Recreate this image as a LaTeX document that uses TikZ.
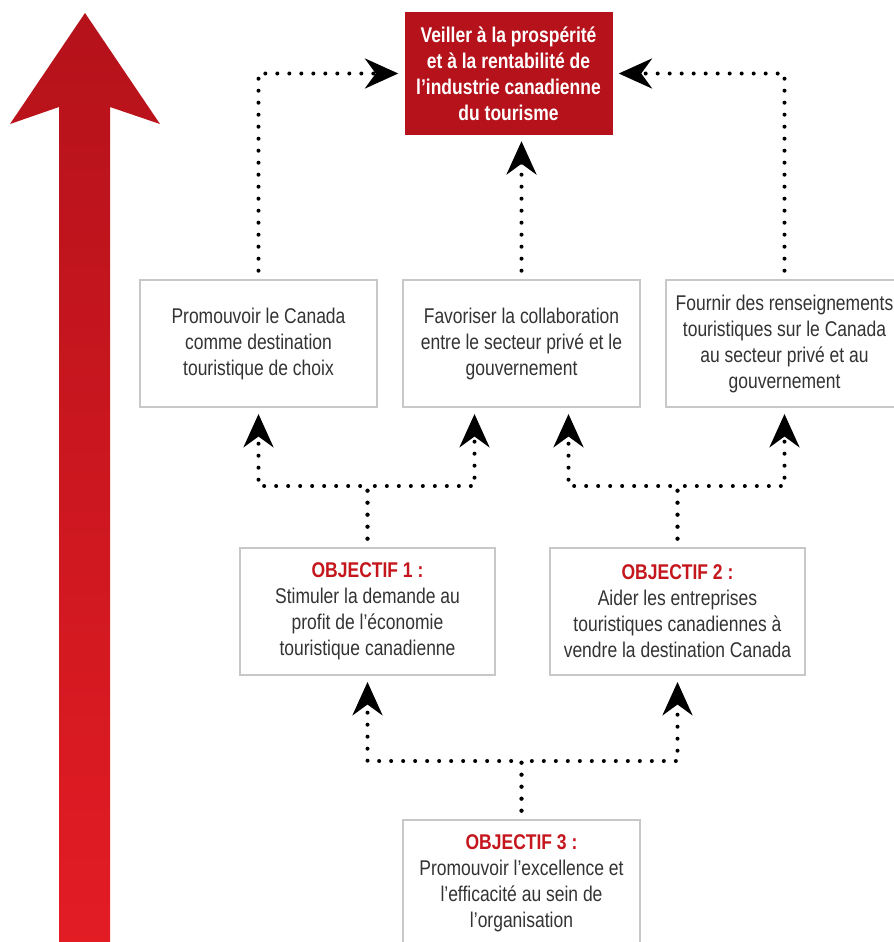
\documentclass[tikz,border=0pt]{standalone}
\usepackage{fontspec}
\setmainfont[FakeStretch=0.82]{Liberation Sans}
\usetikzlibrary{arrows.meta}
\definecolor{deepred}{HTML}{B5121B}
\definecolor{brightred}{HTML}{E31C24}
\definecolor{goalred}{HTML}{C4161C}
\definecolor{framegray}{HTML}{C8C8C8}
\definecolor{textgray}{HTML}{333333}
\newcommand{\goal}[1]{{\bfseries\color{goalred}OBJECTIF #1 :}\\}

\begin{document}
\begin{tikzpicture}[x=0.3mm,y=-0.3mm,>={Stealth[length=10mm,width=9mm]},
  box/.style={draw=framegray,line width=0.6mm,fill=white,align=center,text=textgray,
    minimum width=71.1mm,minimum height=38.1mm,font=\fontsize{18.2}{22.2}\selectfont},
  goalbox/.style={box,minimum width=76.5mm},
  topbox/.style={fill=deepred,text=white,align=center,minimum width=62.4mm,
    minimum height=36.9mm,font=\bfseries\fontsize{18.2}{22.2}\selectfont},
  link/.style={->,line width=1.2mm,line cap=round,dash pattern=on 0mm off 3.6mm,
    shorten <=2.5mm,shorten >=1.8mm}]
\clip (0,0) rectangle (894,942);
\fill[white] (0,0) rectangle (894,942);
% big arrow on the left
\shade[top color=deepred,bottom color=brightred]
  (85,13) -- (160,124) -- (110,107) -- (110,950) -- (59,950) -- (59,107) -- (10,124) -- cycle;
% boxes
\node[topbox] (top) at (508.5,73.5) {Veiller à la prospérité\\et à la rentabilité de\\l’industrie canadienne\\du tourisme};
\node[box] (promo) at (258.5,343.5) {Promouvoir le Canada\\comme destination\\touristique de choix};
\node[box] (collab) at (521.5,343.5) {Favoriser la collaboration\\entre le secteur privé et le\\gouvernement};
\node[box] (info) at (784.5,343.5) {Fournir des renseignements\\touristiques sur le Canada\\au secteur privé et au\\gouvernement};
\node[goalbox] (obj1) at (367.5,611.5) {\goal{1}Stimuler la demande au\\profit de l’économie\\touristique canadienne};
\node[goalbox] (obj2) at (677.5,611.5) {\goal{2}Aider les entreprises\\touristiques canadiennes à\\vendre la destination Canada};
\node[box] (obj3) at (521.5,883.5) {\goal{3}Promouvoir l’excellence et\\l’efficacité au sein de\\l’organisation};
% links
\draw[link] (promo.north) |- (top.west);
\draw[link] (info.north) |- (top.east);
\draw[link] (collab.north) -- (collab.north |- top.south);
\draw[link] (obj1.north) -- ++(0,-61) -| (promo.south);
\draw[link] (obj1.north) -- ++(0,-61) -| ([xshift=-14.1mm]collab.south);
\draw[link] (obj2.north) -- ++(0,-61) -| ([xshift=14.1mm]collab.south);
\draw[link] (obj2.north) -- ++(0,-61) -| (info.south);
\draw[link] (obj3.north) -- ++(0,-58) -| (obj1.south);
\draw[link] (obj3.north) -- ++(0,-58) -| (obj2.south);
\end{tikzpicture}
\end{document}
